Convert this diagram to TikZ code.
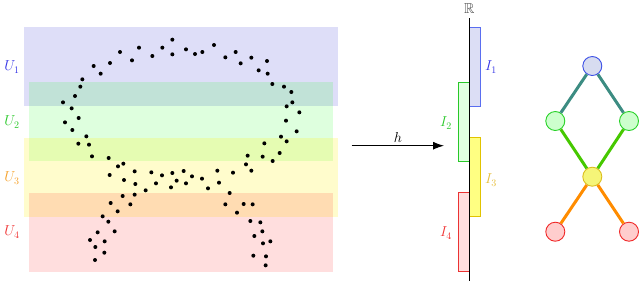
\documentclass[tikz,border=0pt]{standalone}
\usepackage{amssymb}
\usetikzlibrary{arrows.meta}
\definecolor{cUa}{RGB}{50,50,230}
\definecolor{cUb}{RGB}{40,200,40}
\definecolor{cUc}{RGB}{245,160,40}
\definecolor{cUd}{RGB}{240,50,50}
\definecolor{cIc}{RGB}{230,190,60}
\definecolor{bIa}{RGB}{90,110,240}
\definecolor{fIa}{RGB}{220,222,245}
\definecolor{bIb}{RGB}{40,200,40}
\definecolor{fIb}{RGB}{225,255,225}
\definecolor{bIc}{RGB}{225,195,0}
\definecolor{fIc}{RGB}{255,255,130}
\definecolor{bId}{RGB}{235,50,50}
\definecolor{fId}{RGB}{255,222,222}
\definecolor{gTf}{RGB}{215,220,240}
\definecolor{gTb}{RGB}{60,80,230}
\definecolor{gMf}{RGB}{205,255,205}
\definecolor{gMb}{RGB}{40,210,40}
\definecolor{gYf}{RGB}{245,245,120}
\definecolor{gYb}{RGB}{220,190,30}
\definecolor{gBf}{RGB}{255,205,205}
\definecolor{gBb}{RGB}{240,40,40}
\definecolor{eTop}{RGB}{60,140,130}
\definecolor{eMid}{RGB}{70,200,0}
\definecolor{eBot}{RGB}{255,140,0}
\definecolor{bandB}{RGB}{222,222,248}
\tikzset{
  ival/.style={line width=0.9pt},
  lab/.style={inner sep=0pt, font=\Large},
  gnode/.style={circle, minimum size=19pt, inner sep=0pt, line width=0.9pt},
  gedge/.style={line width=3pt},
  dot/.style={fill=black},
}
\begin{document}
\begin{tikzpicture}[x=1pt,y=-1pt]
\useasboundingbox (0,0) rectangle (640,282);
% bands
\fill[bandB] (24.3,27.3) rectangle (338,106);
\fill[green, fill opacity=0.13] (29,82.3) rectangle (333,160.7);
\fill[yellow, fill opacity=0.2] (24.3,137.7) rectangle (338,216.7);
\fill[red, fill opacity=0.13] (29,192.7) rectangle (333,271.7);
% band labels
\node[lab, text=cUa] (u1) at (12,67) {$U_1$};
\node[lab, text=cUb] (u2) at (12,122) {$U_2$};
\node[lab, text=cUc] (u3) at (12,178) {$U_3$};
\node[lab, text=cUd] (u4) at (12,232) {$U_4$};
% dots
\foreach \a/\b in {517/59,417/83,487/83,642/75,360/96,558/88,585/102,607/96,707/96,457/108,
517/103,676/112,754/113,396/121,330/129,281/138,722/130,801/123,302/161,776/151,
803/161,247/178,241/200,817/192,852/200,874/216,225/228,189/247,215/265,877/247,
860/259,898/277,236/294,195/307,858/302,217/330,890/334,259/349,843/350,235/371,
267/374,860/364,793/370,276/409,743/407,788/410,839/399,818/423,326/414,354/439,
370/431,738/433,754/452,404/454,454/457,486/466,517/459,551/453,576/469,606/476,
652/452,699/458,329/465,372/480,406/492,468/490,513/502,530/482,558/490,624/505,
657/488,437/511,404/524,368/528,689/519,332/549,391/553,676/553,731/552,758/553,
353/574,711/578,308/589,325/605,751/603,781/607,293/637,344/634,787/634,763/648,
270/660,314/664,811/664,789/670,286/681,313/698,760/707,798/709,285/720,797/736}
  {\fill[dot] ({\a/3},{20+\b/3}) circle[radius=2.0];}
% arrow h
\coordinate (hs) at (351.7,145.7);
\coordinate (he) at (444,145.7);
\draw[line width=0.9pt, -{Latex[length=11pt,width=8pt]}] (hs) -- node[above=3pt, lab] (hl) {$h$} (he);
% intervals
\draw[ival, draw=bIa, fill=fIa] (469.3,27.3) rectangle (480.3,106);
\draw[ival, draw=bIb, fill=fIb] (458.3,82.3) rectangle (469.3,161.3);
\draw[ival, draw=bIc, fill=fIc] (469.3,137.3) rectangle (480.3,216.7);
\draw[ival, draw=bId, fill=fId] (458.3,192.7) rectangle (469.3,271.7);
% axis
\coordinate (ax0) at (469.3,18.3);
\coordinate (ax1) at (469.3,280.5);
\draw[line width=1.1pt] (ax0) -- (ax1);
\node[lab, text=black!70, anchor=north] (rl) at (469.3,3) {$\mathbb{R}$};
\node[lab, text=cUa] (i1) at (491,67) {$I_1$};
\node[lab, text=cUb] (i2) at (446,123) {$I_2$};
\node[lab, text=cIc] (i3) at (491,180) {$I_3$};
\node[lab, text=cUd] (i4) at (446,233) {$I_4$};
% graph
\node[gnode, draw=gTb, fill=gTf] (t) at (592.3,66) {};
\node[gnode, draw=gMb, fill=gMf] (ml) at (555.3,121) {};
\node[gnode, draw=gMb, fill=gMf] (mr) at (629,121) {};
\node[gnode, draw=gYb, fill=gYf] (y) at (592.3,176.7) {};
\node[gnode, draw=gBb, fill=gBf] (bl) at (555.3,231.7) {};
\node[gnode, draw=gBb, fill=gBf] (br) at (629,231.7) {};
\draw[gedge, eTop] (t) -- (ml);
\draw[gedge, eTop] (t) -- (mr);
\draw[gedge, eMid] (ml) -- (y);
\draw[gedge, eMid] (mr) -- (y);
\draw[gedge, eBot] (y) -- (bl);
\draw[gedge, eBot] (y) -- (br);
\end{tikzpicture}
\end{document}
